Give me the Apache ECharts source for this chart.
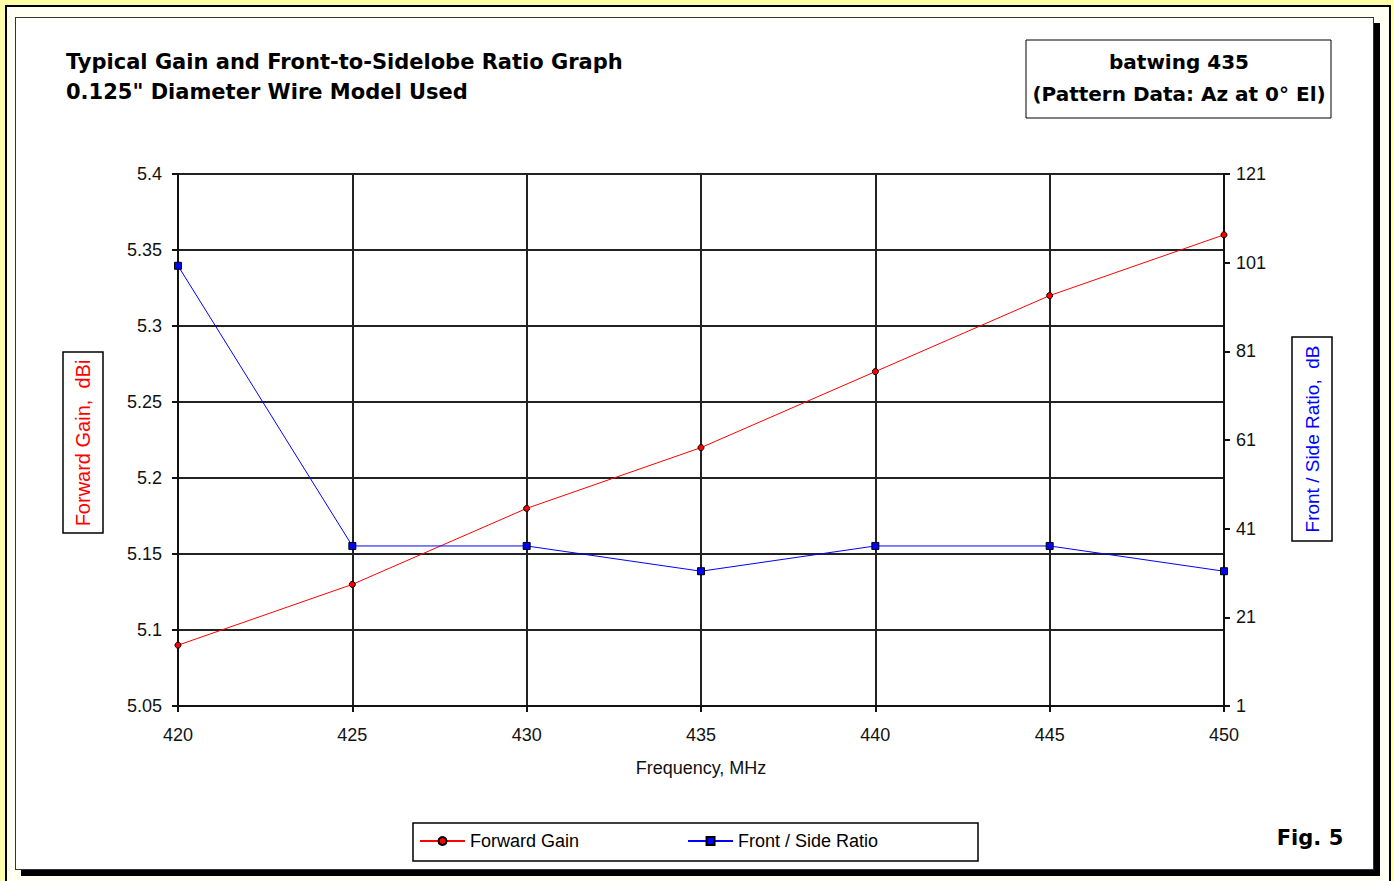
<!DOCTYPE html>
<html>
<head>
<meta charset="utf-8">
<script src="https://cdn.jsdelivr.net/npm/echarts@6/dist/echarts.min.js"></script>
<style>
  html, body { margin:0; padding:0; width:1394px; height:881px; overflow:hidden; background:#FFFFA8; }
  #outer { position:absolute; left:5px; top:5px; width:1386px; height:880px; border:2px solid #000; background:#FFFFF2; box-sizing:border-box; }
  #panel { position:absolute; left:15px; top:17px; width:1359px; height:853px; border:1px solid #333; background:#fff; box-sizing:border-box; box-shadow:6px 6px 0 #000; }
  #chart { position:absolute; left:0; top:0; width:1394px; height:881px; }
</style>
</head>
<body>
<div id="outer"></div>
<div id="panel"></div>
<div id="chart"></div>
<script>
// ---- data ----
const categories = ['420', '425', '430', '435', '440', '445', '450'];
const forwardGain = [5.09, 5.13, 5.18, 5.22, 5.27, 5.32, 5.36];
const frontSideRatio = [100.3, 37.1, 37.1, 31.4, 37.1, 37.1, 31.4];
const gainTicks = { min: 5.05, max: 5.4, interval: 0.05 };
const ratioTicks = { min: 1, max: 121, interval: 20 };

const ARIAL = '"Liberation Sans", Arial, sans-serif';
const BOLD = '"DejaVu Sans", sans-serif';

const chart = echarts.init(document.getElementById('chart'), null, { renderer: 'svg' });
chart.setOption({
  animation: false,
  backgroundColor: 'transparent',
  title: {
    text: 'Typical Gain and Front-to-Sidelobe Ratio Graph\n0.125" Diameter Wire Model Used',
    left: 66, top: 47, padding: 0,
    textStyle: { fontFamily: BOLD, fontWeight: 'bold', fontSize: 21, lineHeight: 30, color: '#000' }
  },
  grid: { left: 178, top: 174, width: 1046, height: 532 },
  legend: {
    left: 419, top: 832, padding: 0, itemWidth: 45, itemHeight: 10, itemGap: 108,
    textStyle: { fontFamily: ARIAL, fontSize: 18, color: '#000' },
    data: ['Forward Gain', 'Front / Side Ratio']
  },
  xAxis: {
    type: 'category', data: categories, boundaryGap: false,
    axisLine: { lineStyle: { color: '#111', width: 2 } },
    axisTick: { show: true, length: 6, lineStyle: { color: '#111', width: 2 } },
    splitLine: { show: true, lineStyle: { color: '#222', width: 2 } },
    axisLabel: { fontFamily: ARIAL, fontSize: 18, color: '#111', margin: 20 },
    name: 'Frequency, MHz', nameLocation: 'middle', nameGap: 53,
    nameTextStyle: { fontFamily: ARIAL, fontSize: 18, color: '#111' }
  },
  yAxis: [
    {
      type: 'value', position: 'left', min: gainTicks.min, max: gainTicks.max, interval: gainTicks.interval,
      axisLine: { show: true, lineStyle: { color: '#111', width: 2 } },
      axisTick: { show: true, length: 6, lineStyle: { color: '#111', width: 2 } },
      splitLine: { show: true, lineStyle: { color: '#222', width: 2 } },
      axisLabel: { fontFamily: ARIAL, fontSize: 18, color: '#111', margin: 16 }
    },
    {
      type: 'value', position: 'right', min: ratioTicks.min, max: ratioTicks.max, interval: ratioTicks.interval,
      axisLine: { show: true, lineStyle: { color: '#111', width: 2 } },
      axisTick: { show: true, length: 6, lineStyle: { color: '#111', width: 2 } },
      splitLine: { show: false },
      axisLabel: { fontFamily: ARIAL, fontSize: 18, color: '#111', margin: 12 }
    }
  ],
  series: [
    {
      name: 'Forward Gain', type: 'line', yAxisIndex: 0, data: forwardGain,
      symbol: 'circle', symbolSize: 6,
      lineStyle: { color: '#ff0000', width: 1 },
      itemStyle: { color: '#ff0000', borderColor: '#000', borderWidth: 1 }
    },
    {
      name: 'Front / Side Ratio', type: 'line', yAxisIndex: 1, data: frontSideRatio,
      symbol: 'rect', symbolSize: 7,
      lineStyle: { color: '#0000ff', width: 1 },
      itemStyle: { color: '#0000ff', borderColor: '#000', borderWidth: 1 }
    }
  ],
  graphic: [
    { type: 'rect', shape: { x: 1026, y: 40, width: 305, height: 78 }, style: { fill: '#fff', stroke: '#000', lineWidth: 1 } },
    { type: 'text', x: 1179, y: 62, style: { text: 'batwing 435', align: 'center', verticalAlign: 'middle', font: 'bold 20px "DejaVu Sans", sans-serif', fill: '#000' } },
    { type: 'text', x: 1179, y: 94, style: { text: '(Pattern Data: Az at 0° El)', align: 'center', verticalAlign: 'middle', font: 'bold 20px "DejaVu Sans", sans-serif', fill: '#000' } },
    { type: 'text', x: 1310, y: 838, style: { text: 'Fig. 5', align: 'center', verticalAlign: 'middle', font: 'bold 21px "DejaVu Sans", sans-serif', fill: '#000' } },
    { type: 'rect', z: -1, shape: { x: 413, y: 823, width: 565, height: 38 }, style: { fill: '#fff', stroke: '#000', lineWidth: 1.5 } },
    { type: 'rect', shape: { x: 63, y: 352, width: 40, height: 181 }, style: { fill: '#fff', stroke: '#000', lineWidth: 1.5 } },
    { type: 'text', x: 83, y: 443, rotation: Math.PI / 2, style: { text: 'Forward Gain,  dBi', align: 'center', verticalAlign: 'middle', font: '20px "Liberation Sans", Arial, sans-serif', fill: '#ff0000' } },
    { type: 'rect', shape: { x: 1292, y: 337, width: 40, height: 204 }, style: { fill: '#fff', stroke: '#000', lineWidth: 1.5 } },
    { type: 'text', x: 1312, y: 439, rotation: Math.PI / 2, style: { text: 'Front / Side Ratio,  dB', align: 'center', verticalAlign: 'middle', font: '19px "Liberation Sans", Arial, sans-serif', fill: '#0000ff' } }
  ]
});
</script>
</body>
</html>
